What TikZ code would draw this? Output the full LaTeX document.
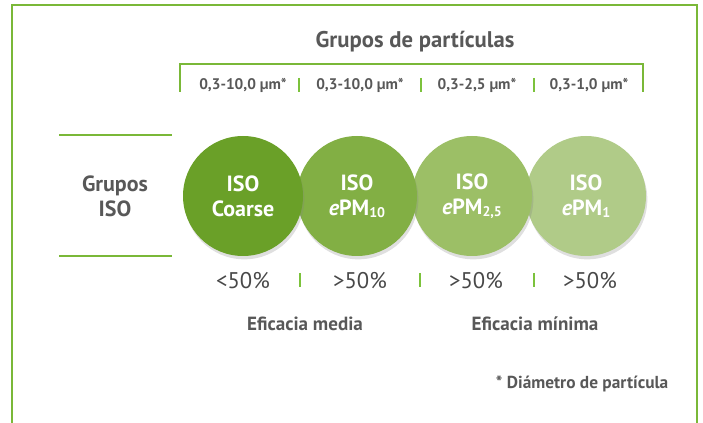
\documentclass[tikz,border=0pt]{standalone}
\usepackage{fontspec}
\setmainfont{PT Sans}
\usepackage{tikz}
\usetikzlibrary{positioning,shadows}
\definecolor{txtgray}{RGB}{88,88,88}
\definecolor{pctgray}{RGB}{72,72,72}
\definecolor{framegreen}{RGB}{122,184,56}
\definecolor{bargreen}{RGB}{124,194,60}
\definecolor{isocoarse}{RGB}{106,160,40}
\definecolor{isoten}{RGB}{130,175,68}
\definecolor{isotwo}{RGB}{156,191,102}
\definecolor{isoone}{RGB}{176,203,136}
\newcommand{\pmsub}[1]{\raisebox{-0.2ex}{\fontsize{10.5}{10.5}\selectfont #1}}
\begin{document}
\begin{tikzpicture}[x=0.75pt,y=-0.75pt,
  isocircle/.style={circle,minimum size=90pt,inner sep=0pt,align=center,text=white,
    font=\bfseries\fontsize{16.5}{18.75}\selectfont,
    drop shadow={shadow xshift=1pt,shadow yshift=-2.5pt,opacity=0.25}},
  rangelbl/.style={text=txtgray,font=\bfseries\fontsize{11.5}{13}\selectfont},
  pctlbl/.style={text=pctgray,font=\fontsize{17}{19}\selectfont},
  efflbl/.style={text=txtgray,font=\bfseries\fontsize{14.3}{16}\selectfont},
  sepbar/.style={bargreen,line width=2.2pt}]
  \useasboundingbox (0,0) rectangle (703,423);
  % frame
  \draw[framegreen,line width=1.5pt] (12,423) -- (12,5) -- (697,5) -- (697,423);
  % title and bracket
  \node[text=txtgray,font=\bfseries\fontsize{17}{20}\selectfont] (title) at (415,42) {Grupos de partículas};
  \draw[framegreen,line width=1.1pt] (180,92) -- (180,64) -- (643,64) -- (643,92);
  \node[rangelbl] (rA) at (243,85) {0,3-10,0 µm*};
  \node[rangelbl] (rB) at (360,85) {0,3-10,0 µm*};
  \node[rangelbl] (rC) at (477,85) {0,3-2,5 µm*};
  \node[rangelbl] (rD) at (589,85) {0,3-1,0 µm*};
  \draw[sepbar] (299,78) -- (299,92);
  \draw[sepbar] (421,78) -- (421,92);
  \draw[sepbar] (534,78) -- (534,92);
  % left label
  \draw[framegreen,line width=1pt] (59,135) -- (172,135);
  \draw[framegreen,line width=1pt] (59,256) -- (172,256);
  \node[text=txtgray,align=center,font=\bfseries\fontsize{16.5}{19}\selectfont] (grupos) at (115,196) {Grupos\\ISO};
  % circles, right to left
  \node[isocircle,fill=isoone] (one) at (586,196) {ISO\\{\itshape e}PM\pmsub{1}};
  \node[isocircle,fill=isotwo] (two) at (472,196) {ISO\\{\itshape e}PM\pmsub{2,5}};
  \node[isocircle,fill=isoten] (ten) at (357,196) {ISO\\{\itshape e}PM\pmsub{10}};
  \node[isocircle,fill=isocoarse] (coarse) at (243,196) {ISO\\Coarse};
  % efficiency
  \node[pctlbl] (pA) at (243,281) {<50\%};
  \node[pctlbl] (pB) at (360,281) {>50\%};
  \node[pctlbl] (pC) at (476,281) {>50\%};
  \node[pctlbl] (pD) at (590,281) {>50\%};
  \draw[sepbar] (300,273) -- (300,287);
  \draw[sepbar] (420,273) -- (420,287);
  \draw[sepbar] (534,273) -- (534,287);
  \node[efflbl] (media) at (305,324) {Eficacia media};
  \node[efflbl] (minima) at (535,324) {Eficacia mínima};
  \node[text=txtgray,font=\bfseries\fontsize{13}{15}\selectfont,anchor=east] (nota) at (673,384) {* Diámetro de partícula};
\end{tikzpicture}
\end{document}
